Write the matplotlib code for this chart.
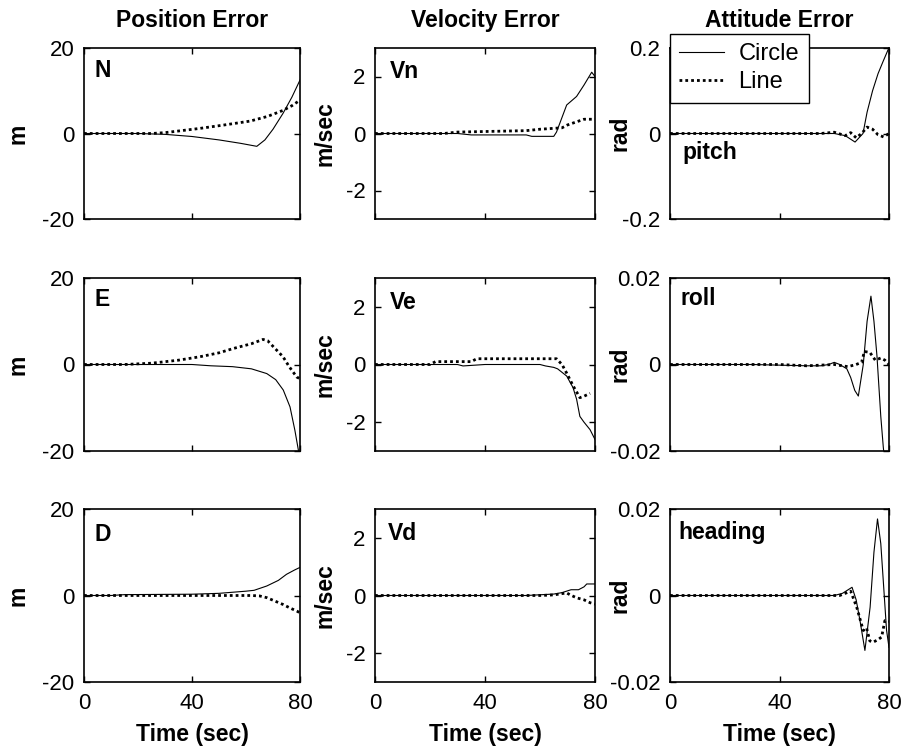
import matplotlib
matplotlib.use("Agg")
import matplotlib.pyplot as plt

plt.rcParams['font.family'] = ['Liberation Sans', 'DejaVu Sans']
plt.rcParams['axes.unicode_minus'] = False

# ---------------- data ----------------
col_titles = ["Position Error", "Velocity Error", "Attitude Error"]
col_units = ["m", "m/sec", "rad"]
panel_names = [["N", "Vn", "pitch"], ["E", "Ve", "roll"], ["D", "Vd", "heading"]]
x_ticks = [0, 40, 80]
pos_ticks = [-20, 0, 20]
vel_ticks = [-2, 0, 2]
pitch_ticks = [-0.2, 0, 0.2]
att_ticks = [-0.02, 0, 0.02]
pitch_tick_labels = ["-0.2", "0", "0.2"]
att_tick_labels = ["-0.02", "0", "0.02"]

# North position
t_N_circle = [0, 20, 30, 40, 50, 58, 64, 67, 70, 73.7, 77, 80]
N_circle = [0, 0, -0.2, -0.7, -1.5, -2.3, -3.0, -1.5, 1.0, 4.7, 8.5, 12.5]
t_N_line = [0, 25, 30, 43, 52, 61.5, 68, 73.7, 77, 80]
N_line = [0, 0, 0.2, 1.2, 2.0, 2.9, 4.0, 5.4, 6.5, 7.8]

# North velocity
t_Vn_circle = [0, 30, 35, 55, 57, 65, 66, 69.7, 73.3, 76, 78.8, 80]
Vn_circle = [0, 0, -0.05, -0.05, -0.1, -0.1, 0.05, 1.0, 1.3, 1.7, 2.15, 2.0]
t_Vn_line = [0, 25, 30, 55, 60, 68, 70, 73, 76, 80]
Vn_line = [0, 0, 0.05, 0.1, 0.15, 0.2, 0.3, 0.4, 0.5, 0.5]

# Pitch
t_pitch_circle = [0, 60, 64, 67.6, 70.5, 72, 74, 76, 77.8, 79.6, 80]
pitch_circle = [0, 0, -0.005, -0.02, 0.0, 0.05, 0.1, 0.14, 0.168, 0.195, 0.2]
t_pitch_line = [0, 55, 60, 64, 66, 68, 70, 72, 74, 76, 78, 80]
pitch_line = [0, 0, 0.003, -0.005, 0.002, -0.01, 0.0, 0.015, 0.01, -0.003, -0.008, 0.0]

# East position
t_E_circle = [0, 40, 47, 55, 62, 67.7, 71, 73.8, 76.3, 78.1, 79.4, 80]
E_circle = [0, 0, -0.3, -0.5, -1.0, -2.1, -3.5, -5.9, -9.8, -15.2, -19.8, -21]
t_E_line = [0, 15, 25, 35, 43, 50, 55.3, 62, 66.3, 68, 70, 73.7, 76, 78.8, 80]
E_line = [0, 0, 0.3, 1.0, 1.8, 2.7, 3.7, 4.8, 5.8, 5.5, 4.2, 1.8, -0.5, -2.9, -3.3]

# East velocity
t_Ve_circle = [0, 30, 32, 40, 60, 62, 65, 66.4, 69.7, 72, 73.3, 74.5, 76, 78.2, 80]
Ve_circle = [0, 0, -0.05, 0, 0, -0.05, -0.1, -0.15, -0.4, -0.8, -1.2, -1.8, -2.0, -2.26, -2.6]
t_Ve_line = [0, 20, 22, 35, 37, 66, 68, 69.7, 72.1, 74.5, 76, 78.2]
Ve_line = [0, 0, 0.1, 0.1, 0.2, 0.2, 0.0, -0.3, -0.75, -1.15, -1.1, -1.0]

# Roll
t_roll_circle = [0, 30, 50, 55, 58, 60, 62, 64.6, 66, 67.5, 68.8, 70.6, 72, 73.4,
                 74.5, 75.6, 77, 77.9, 79, 80]
roll_circle = [0, 0, -0.0003, -0.0003, 0, 0.0005, 0, -0.001, -0.003, -0.006, -0.0073,
               0, 0.01, 0.0158, 0.01, 0.002, -0.012, -0.019, -0.026, -0.03]
t_roll_line = [0, 40, 50, 60, 65, 68, 70, 71, 73, 75, 77, 78.5, 80]
roll_line = [0, 0, -0.0003, 0, -0.0005, 0, 0.0005, 0.003, 0.0028, 0.001, 0.0015, 0.001, 0]

# Down position
t_D_circle = [0, 10, 15, 40, 50, 60, 63, 67.7, 72, 75, 78, 80]
D_circle = [0, 0, 0.2, 0.3, 0.5, 1.0, 1.2, 2.2, 3.5, 4.9, 5.9, 6.5]
t_D_line = [0, 62, 65, 67.7, 70, 73.8, 76, 78.8, 80]
D_line = [0, 0, -0.1, -0.5, -1.1, -2.1, -2.8, -3.6, -4.0]

# Down velocity
t_Vd_circle = [0, 55, 65, 68, 71.3, 74, 76, 77, 80]
Vd_circle = [0, 0, 0.05, 0.1, 0.2, 0.2, 0.3, 0.4, 0.4]
t_Vd_line = [0, 60, 65, 69.7, 71, 73.3, 76, 78.2, 80]
Vd_line = [0, 0, 0.02, 0.09, 0.02, -0.08, -0.15, -0.25, -0.3]

# Heading
t_heading_circle = [0, 60, 63, 66.5, 68, 69.4, 71.2, 73.1, 74.5, 75.8, 77, 77.9, 79.1, 80]
heading_circle = [0, 0, 0.0005, 0.0019, -0.001, -0.0058, -0.0127, -0.0027, 0.01,
                  0.0177, 0.012, 0.0035, -0.008, -0.012]
t_heading_line = [0, 62, 64, 66, 68.2, 70.6, 71.8, 73, 74.2, 76, 77.3, 78.5, 80]
heading_line = [0, 0, 0.0005, 0.001, -0.0027, -0.0081, -0.0075, -0.0105, -0.0108,
                -0.0102, -0.0096, -0.0058, -0.006]

series = [
    [(t_N_circle, N_circle, t_N_line, N_line),
     (t_Vn_circle, Vn_circle, t_Vn_line, Vn_line),
     (t_pitch_circle, pitch_circle, t_pitch_line, pitch_line)],
    [(t_E_circle, E_circle, t_E_line, E_line),
     (t_Ve_circle, Ve_circle, t_Ve_line, Ve_line),
     (t_roll_circle, roll_circle, t_roll_line, roll_line)],
    [(t_D_circle, D_circle, t_D_line, D_line),
     (t_Vd_circle, Vd_circle, t_Vd_line, Vd_line),
     (t_heading_circle, heading_circle, t_heading_line, heading_line)],
]

# ---------------- layout ----------------
W, H = 905, 754
fig = plt.figure(figsize=(W / 100, H / 100), dpi=100)
col_left = [84, 375, 670]
col_width = [216, 220, 219]
row_top = [48, 278, 509]
row_height = [171, 173, 173]
ylabel_x = [18, 325, 620]
label_pos = [[(0.05, 0.87), (0.068, 0.86), (0.055, 0.39)],
             [(0.05, 0.873), (0.068, 0.86), (0.046, 0.884)],
             [(0.05, 0.855), (0.06, 0.86), (0.037, 0.867)]]

TICK_FS = 16
BOLD_FS = 16.5

for r in range(3):
    for c in range(3):
        l, w = col_left[c], col_width[c]
        t, h = row_top[r], row_height[r]
        ax = fig.add_axes([l / W, 1 - (t + h) / H, w / W, h / H])
        tc, vc, tl, vl = series[r][c]
        ax.plot(tc, vc, color='black', lw=0.8, label='Circle')
        ax.plot(tl, vl, color='black', lw=2.0, linestyle=(0, (1, 1.1)),
                dash_capstyle='butt', label='Line')
        ax.set_xlim(0, 80)
        ax.set_xticks(x_ticks)
        if c == 0:
            ax.set_ylim(-20, 20)
            ax.set_yticks(pos_ticks)
        elif c == 1:
            ax.set_ylim(-3, 3)
            ax.set_yticks(vel_ticks)
        else:
            if r == 0:
                ax.set_ylim(-0.2, 0.2)
                ax.set_yticks(pitch_ticks)
                ax.set_yticklabels(pitch_tick_labels)
            else:
                ax.set_ylim(-0.02, 0.02)
                ax.set_yticks(att_ticks)
                ax.set_yticklabels(att_tick_labels)
        ax.tick_params(direction='in', top=True, right=True, length=4, width=1,
                       labelsize=TICK_FS, pad=7, colors='black')
        ax.tick_params(axis='x', pad=8)
        for sp in ax.spines.values():
            sp.set_linewidth(1.2)
            sp.set_color('black')
        if r < 2:
            ax.tick_params(labelbottom=False)
        else:
            ax.set_xlabel("Time (sec)", fontsize=BOLD_FS, fontweight='bold')
            ax.xaxis.set_label_coords(0.5, -0.235)
        ax.set_ylabel(col_units[c], fontsize=BOLD_FS, fontweight='bold')
        ax.yaxis.label.set_va('center')
        ax.yaxis.set_label_coords((ylabel_x[c] - l) / w, 0.5)
        if r == 0:
            ax.set_title(col_titles[c], fontsize=BOLD_FS, fontweight='bold', pad=15)
        px, py = label_pos[r][c]
        ax.text(px, py, panel_names[r][c], transform=ax.transAxes,
                fontsize=BOLD_FS, fontweight='bold', ha='left', va='center')
        if r == 0 and c == 2:
            leg = ax.legend(loc='upper left', bbox_to_anchor=(0, 1 + 14 / h),
                            borderaxespad=0, fontsize=17, frameon=True,
                            fancybox=False, framealpha=1, edgecolor='black',
                            handlelength=1.9, handletextpad=0.6,
                            labelspacing=0.25, borderpad=0.4)
            leg.get_frame().set_linewidth(1.0)
            leg.set_zorder(5)

fig.savefig("out.png", dpi=100)
